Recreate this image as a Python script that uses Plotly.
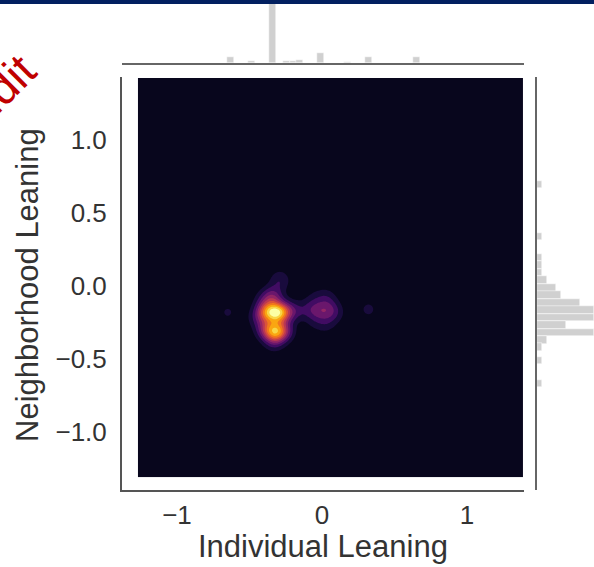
import numpy as np
import plotly.graph_objects as go

W, H = 594, 567

# ---------------- data ----------------
# KDE sample points (individual leaning, neighborhood leaning, weight)
kde_x = [-0.39, -0.32, -0.26, -0.385, -0.32, -0.26,
         -0.34, -0.29, -0.40, -0.33, -0.45, -0.18,
         -0.08, 0.02, 0.03, 0.03, 0.09, -0.05, -0.05, -0.03, 0.07,
         -0.65, 0.32]
kde_y = [-0.18, -0.18, -0.18, -0.30, -0.31, -0.31,
         -0.07, 0.04, -0.10, -0.38, -0.22, -0.17,
         -0.16, -0.17, -0.08, -0.26, -0.19, -0.25, -0.08, -0.17, -0.15,
         -0.18, -0.16]
kde_w = [4, 6, 3.5, 3, 5.0, 2.5,
         2.5, 1.5, 1.2, 1.5, 1.0, 1.3,
         1.3, 1.5, 1.1, 0.9, 0.9, 0.6, 0.6, 1.0, 0.8,
         0.88, 0.98]
bandwidth = 0.05

# top marginal histogram (individual leaning)
top_x = [-0.628, -0.486, -0.341, -0.245, -0.197, -0.155, -0.010, 0.176, 0.324, 0.652]
top_counts = [3, 1, 53, 1, 1, 1.5, 5, 0.5, 3, 3]

# right marginal histogram (neighborhood leaning)
right_y = [0.695, 0.339, 0.195, 0.144, 0.092, 0.041, -0.014, -0.062, -0.116, -0.164,
           -0.216, -0.267, -0.318, -0.370, -0.418, -0.510, -0.668]
right_counts = [1, 1, 1, 1, 1, 2, 4, 5, 9, 12, 12, 6, 12, 2, 1, 1, 1]

x_ticks = [-1, 0, 1]
x_ticktext = ["\u22121", "0", "1"]
y_ticks = [-1.0, -0.5, 0.0, 0.5, 1.0]
y_ticktext = ["\u22121.0", "\u22120.5", "0.0", "0.5", "1.0"]

# ---------------- KDE grid ----------------
gx = np.linspace(-1.27, 1.386, 320)
gy = np.linspace(-1.31, 1.425, 320)
GX, GY = np.meshgrid(gx, gy)
Z = np.zeros_like(GX)
for px_, py_, w_ in zip(kde_x, kde_y, kde_w):
    Z += w_ * np.exp(-((GX - px_) ** 2 + (GY - py_) ** 2) / (2 * bandwidth ** 2))
Z = Z / Z.max()

inferno = ['#08061d', '#1b0c41', '#4a0c6b', '#781c6d', '#a52c60',
           '#cf4446', '#ed6925', '#fb9b06', '#f7d13d', '#fcffa4']
cscale = [[i / (len(inferno) - 1), c] for i, c in enumerate(inferno)]

def fx(p):
    return p / W

def fy(p):
    return 1 - p / H

fig = go.Figure()

fig.add_trace(go.Contour(
    x=gx, y=gy, z=Z,
    colorscale=cscale, showscale=False,
    contours=dict(coloring='fill', start=0.08, end=0.908, size=0.092),
    line=dict(width=0, smoothing=1),
    xaxis='x', yaxis='y', hoverinfo='skip'))

fig.add_trace(go.Bar(
    x=top_x, y=top_counts, width=0.048,
    marker=dict(color='#d0d0d0', line=dict(color='white', width=0.5)),
    xaxis='x2', yaxis='y2', showlegend=False))

fig.add_trace(go.Bar(
    y=right_y, x=right_counts, width=0.05, orientation='h',
    marker=dict(color='#d0d0d0', line=dict(color='white', width=0.5)),
    xaxis='x3', yaxis='y3', showlegend=False))

font_family = "Arial, Liberation Sans, sans-serif"
spine = '#555555'

main_xdom = [fx(122), fx(524)]
main_ydom = [fy(490), fy(77)]
xr = [-1.379, 1.393]
yr = [-1.397, 1.432]

fig.update_layout(
    width=W, height=H,
    margin=dict(l=0, r=0, t=0, b=0),
    paper_bgcolor='white', plot_bgcolor='white',
    showlegend=False, bargap=0,
    xaxis=dict(domain=main_xdom, range=xr, anchor='y',
               showgrid=False, zeroline=False,
               showline=True, linecolor=spine, linewidth=2,
               tickvals=x_ticks, ticktext=x_ticktext,
               ticks='outside', ticklen=1, tickcolor='rgba(0,0,0,0)',
               tickfont=dict(family=font_family, size=26, color='#333333')),
    yaxis=dict(domain=main_ydom, range=yr, anchor='x',
               showgrid=False, zeroline=False,
               showline=True, linecolor=spine, linewidth=2,
               tickvals=y_ticks, ticktext=y_ticktext,
               ticks='outside', ticklen=8, tickcolor='rgba(0,0,0,0)',
               tickfont=dict(family=font_family, size=26, color='#333333')),
    xaxis2=dict(domain=main_xdom, range=xr, anchor='y2',
                showgrid=False, zeroline=False, showticklabels=False,
                showline=True, linecolor='#666666', linewidth=2),
    yaxis2=dict(domain=[fy(63), 1.0], range=[0, 31.5], anchor='x2',
                visible=False),
    xaxis3=dict(domain=[fx(537), 1.0], range=[0, 12], anchor='y3',
                visible=False),
    yaxis3=dict(domain=main_ydom, range=yr, anchor='x3',
                showgrid=False, zeroline=False, showticklabels=False,
                showline=True, linecolor='#666666', linewidth=2),
    shapes=[dict(type='rect', xref='paper', yref='paper',
                 x0=0, x1=1, y0=fy(4), y1=1.02,
                 fillcolor='#022060', line=dict(width=0), layer='above')],
    annotations=[
        dict(text='Individual Leaning', xref='paper', yref='paper',
             x=fx(323), y=fy(546), xanchor='center', yanchor='middle',
             showarrow=False,
             font=dict(family=font_family, size=31, color='#333333')),
        dict(text='Neighborhood Leaning', xref='paper', yref='paper',
             x=fx(27), y=fy(285), xanchor='center', yanchor='middle',
             textangle=-90, showarrow=False,
             font=dict(family=font_family, size=31, color='#333333')),
        dict(text='Reddit', xref='paper', yref='paper',
             x=fx(-20), y=fy(110), xanchor='center', yanchor='middle',
             textangle=-45, showarrow=False,
             font=dict(family=font_family, size=46, color='#C00000')),
    ],
)

fig.write_html("out.html")
